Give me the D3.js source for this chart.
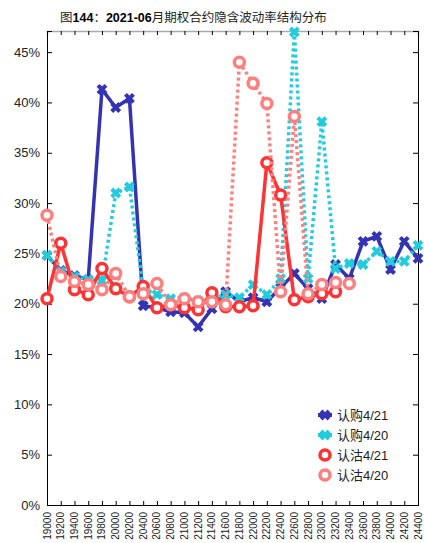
<!DOCTYPE html>
<html>
<head>
<meta charset="utf-8">
<script src="https://cdn.jsdelivr.net/npm/d3@7"></script>
<style>
body { margin: 0; background: #fff; }
text { font-family: "Liberation Sans", Arial, "Noto Sans CJK SC", sans-serif; }
</style>
</head>
<body>
<div id="chart"></div>
<script>
var strikes = [19000, 19200, 19400, 19600, 19800, 20000, 20200, 20400, 20600, 20800,
  21000, 21200, 21400, 21600, 21800, 22000, 22200, 22400, 22600, 22800,
  23000, 23200, 23400, 23600, 23800, 24000, 24200, 24400];

var call421 = [24.8, 23.3, 22.8, 22.4, 41.3, 39.5, 40.4, 19.8, 19.6, 19.2,
  19.1, 17.7, 19.5, 21.2, 20.2, 20.6, 20.2, 21.6, 23.0, 21.5,
  20.5, 23.9, 22.5, 26.2, 26.7, 23.4, 26.2, 24.5];
var call420 = [24.8, 23.2, 22.7, 22.4, 22.3, 31.0, 31.6, 21.5, 20.9, 20.5,
  20.6, 20.3, 20.5, 20.9, 20.6, 21.9, 20.9, 22.5, 47.0, 22.5,
  38.1, 23.5, 24.0, 23.9, 25.2, 24.2, 24.2, 25.8];
var put421 = [20.5, 26.0, 21.4, 20.9, 23.5, 21.5, 20.7, 21.7, 19.6, 19.9,
  19.6, 19.4, 21.1, 19.7, 19.7, 19.8, 34.0, 30.8, 20.4, 20.7,
  21.0, 21.2, null, null, null, null, null, null];
var put420 = [28.8, 22.7, 22.2, 21.9, 21.4, 23.0, 20.7, 21.0, 22.0, 19.9,
  20.5, 20.2, 20.2, 19.9, 44.0, 41.9, 39.9, 21.2, 38.6, 21.0,
  21.9, 22.1, 22.0, null, null, null, null, null];

var yTicks = [0, 5, 10, 15, 20, 25, 30, 35, 40, 45];

var series = [
  {name: "认购4/21", values: call421, color: "#3333b3", dash: null, marker: "x"},
  {name: "认购4/20", values: call420, color: "#22ccdd", dash: "3,3", marker: "x"},
  {name: "认沽4/21", values: put421, color: "#ff3333", dash: null, marker: "o"},
  {name: "认沽4/20", values: put420, color: "#ff7f7f", dash: "3,3", marker: "o"}
];

var W = 424, H = 543;
var margin = {top: 31, right: 6, bottom: 38, left: 47};
var width = W - margin.left - margin.right,
    height = H - margin.top - margin.bottom;

var svg = d3.select("#chart").append("svg")
  .attr("width", W).attr("height", H);

// title
var title = svg.append("text")
  .attr("x", 60).attr("y", 22)
  .style("font-size", "12.5px")
  .attr("fill", "#222");
title.append("tspan").text("图");
title.append("tspan").attr("font-weight", "bold").attr("fill", "#000").text("144");
title.append("tspan").text("：");
title.append("tspan").attr("font-weight", "bold").attr("fill", "#000").text("2021-06");
title.append("tspan").text("月期权合约隐含波动率结构分布");

var g = svg.append("g")
  .attr("transform", "translate(" + margin.left + "," + margin.top + ")");

var x = d3.scaleLinear()
  .domain([strikes[0], strikes[strikes.length - 1]])
  .range([0, width]);
var y = d3.scaleLinear()
  .domain([0, 47.1])
  .range([height, 0]);

// axes (inward ticks, box)
g.append("g")
  .attr("transform", "translate(0," + height + ")")
  .call(d3.axisTop(x).tickValues(strikes).tickSize(4).tickFormat(""))
  .call(function(a) { a.selectAll("path,line").attr("stroke", "#000"); });

g.append("g")
  .call(d3.axisBottom(x).tickValues(strikes).tickSize(4).tickFormat(""))
  .call(function(a) { a.select("path").attr("stroke", "#aaa").attr("stroke-width", 1.5); a.selectAll("line").attr("stroke", "#000"); });

g.append("g")
  .call(d3.axisRight(y).tickValues(yTicks).tickSize(5).tickFormat(""))
  .call(function(a) { a.selectAll("path,line").attr("stroke", "#000"); });

g.append("g")
  .attr("transform", "translate(" + width + ",0)")
  .call(d3.axisLeft(y).tickValues(yTicks).tickSize(5).tickFormat(""))
  .call(function(a) { a.selectAll("path,line").attr("stroke", "#000"); });

// y labels
g.selectAll(".ylab")
  .data(yTicks)
  .enter().append("text")
  .attr("class", "ylab")
  .attr("x", -7)
  .attr("y", function(d) { return y(d); })
  .attr("dy", "0.35em")
  .attr("text-anchor", "end")
  .style("font-size", "13px")
  .attr("fill", "#222")
  .text(function(d) { return d + "%"; });

// x labels, rotated
g.selectAll(".xlab")
  .data(strikes)
  .enter().append("text")
  .attr("class", "xlab")
  .attr("transform", function(d) { return "translate(" + x(d) + "," + (height + 7) + ") rotate(-90)"; })
  .attr("dy", "0.35em")
  .attr("text-anchor", "end")
  .style("font-size", "10px")
  .attr("fill", "#222")
  .text(function(d) { return d; });

var line = d3.line()
  .defined(function(d) { return d != null; })
  .x(function(d, i) { return x(strikes[i]); })
  .y(function(d) { return y(d); });

var xPath = "M-4,-4L4,4M-4,4L4,-4";

function drawMarker(sel, s) {
  if (s.marker == "x") {
    sel.append("path")
      .attr("d", xPath)
      .attr("stroke", s.color)
      .attr("stroke-width", 4)
      .attr("fill", "none");
  } else {
    sel.append("circle")
      .attr("r", 5)
      .attr("fill", "#fff")
      .attr("stroke", s.color)
      .attr("stroke-width", 3.5);
  }
}

series.forEach(function(s) {
  g.append("path")
    .datum(s.values)
    .attr("d", line)
    .attr("fill", "none")
    .attr("stroke", s.color)
    .attr("stroke-width", 3.5)
    .attr("stroke-dasharray", s.dash);

  g.selectAll(null)
    .data(s.values.map(function(v, i) { return {v: v, k: strikes[i]}; }).filter(function(d) { return d.v != null; }))
    .enter().append("g")
    .attr("transform", function(d) { return "translate(" + x(d.k) + "," + y(d.v) + ")"; })
    .each(function() { drawMarker(d3.select(this), s); });
});

// legend
var legend = svg.append("g").attr("transform", "translate(325,415)");
series.forEach(function(s, i) {
  var row = legend.append("g").attr("transform", "translate(0," + (i * 20) + ")");
  if (s.marker == "x") {
    row.append("line").attr("x1", -7).attr("x2", 7)
      .attr("stroke", s.color).attr("stroke-width", 4);
  }
  drawMarker(row, s);
  row.append("text")
    .attr("x", 12).attr("dy", "0.35em")
    .style("font-size", "13px")
    .attr("fill", "#222")
    .text(s.name);
});
</script>
</body>
</html>
